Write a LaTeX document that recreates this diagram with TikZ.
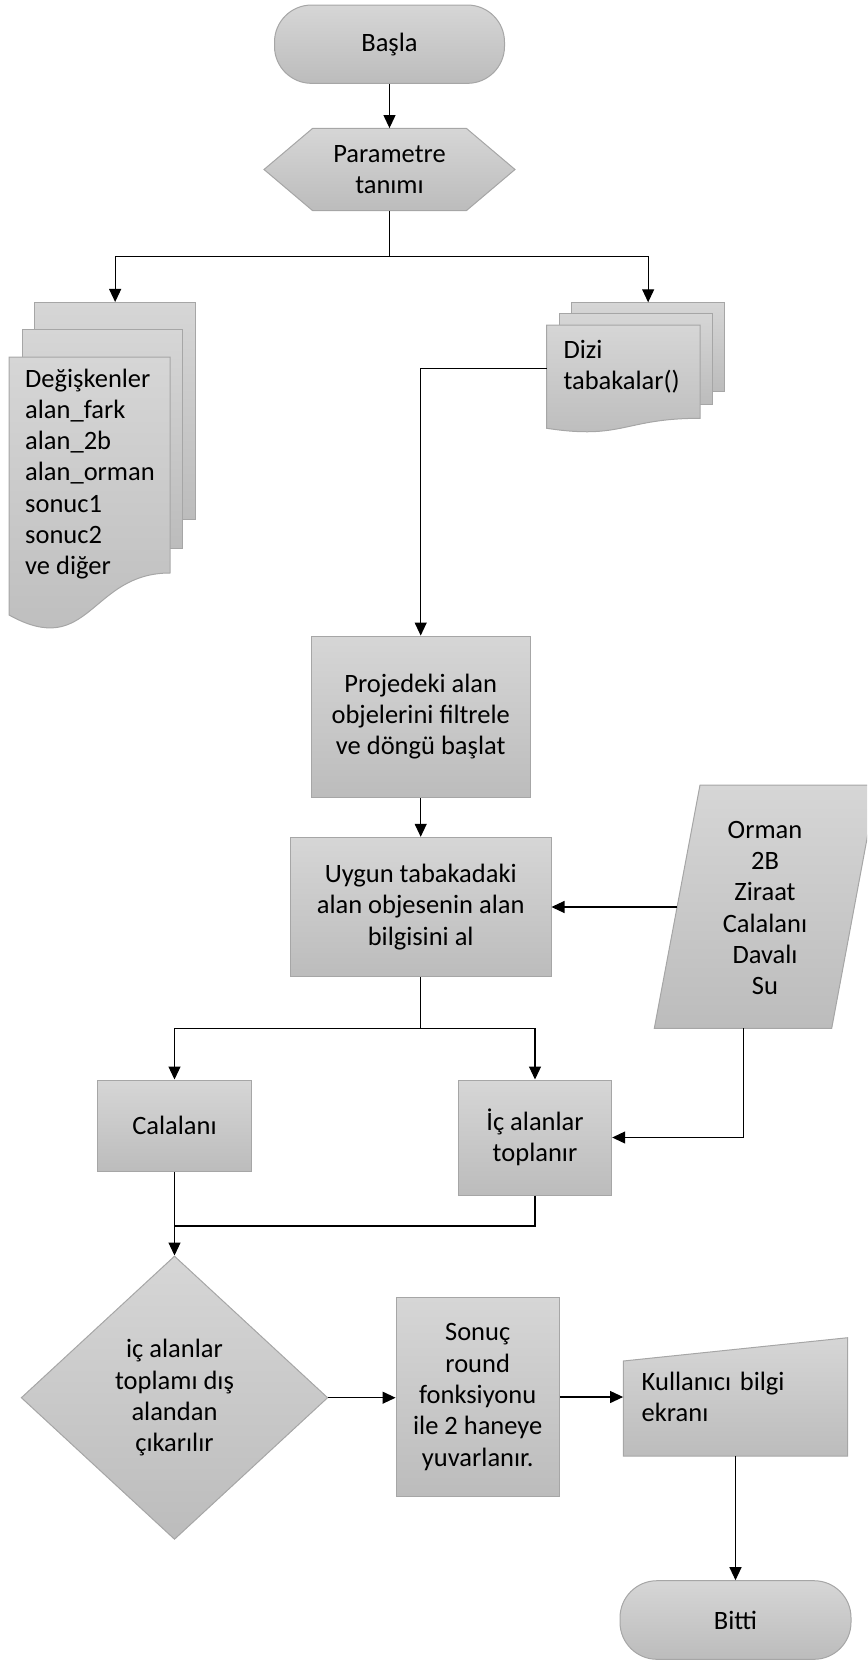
\documentclass[tikz,border=0pt]{standalone}
\usepackage{fontspec}
\setmainfont{Carlito}
\usetikzlibrary{arrows.meta,shapes.geometric,calc}
\definecolor{gtop}{HTML}{D6D6D6}
\definecolor{gbot}{HTML}{BCBCBC}
\definecolor{bordc}{HTML}{A6A6A6}
\newcommand{\fcfont}{\fontsize{26.5}{31.3}\selectfont}
\begin{document}
\begin{tikzpicture}[x=1pt,y=-1pt,
  shapefill/.style={draw=bordc, line width=1pt, top color=gtop, bottom color=gbot},
  lbl/.style={font=\fcfont, align=center, inner sep=0pt},
  procbox/.style={shapefill, rectangle, lbl},
  ghost/.style={lbl, draw=none, fill=none},
  sheet/.style={shapefill, rectangle, inner sep=0pt, anchor=north west},
  conn/.style={line width=1.1pt, -{Triangle[width=12pt,length=13pt]}},
  plainline/.style={line width=1.1pt}]
\useasboundingbox (0,0) rectangle (867,1661);

% ---- start
\node[procbox, rounded corners=37pt, minimum width=230pt, minimum height=78.3pt] (basla) at (389.5,44.2) {Başla};

% ---- hexagon
\path[shapefill] (264,169.5) -- (312.7,128.3) -- (466.3,128.3) -- (515,169.5) -- (466.3,210.7) -- (312.7,210.7) -- cycle;
\node[ghost, minimum width=251pt, minimum height=82.4pt] (param) at (389.5,169.5) {Parametre\\tanımı};

% ---- left multi-document
\node[sheet, minimum width=160.7pt, minimum height=217pt] (varsA) at (34.3,302) {};
\node[sheet, minimum width=159.4pt, minimum height=219pt] (varsB) at (22.3,329) {};
\path[shapefill] (9,357) -- (170,357) -- (170,573) .. controls (90,573) and (90,660) .. (9,615) -- cycle;
\node[ghost, align=left, anchor=west] (vars) at (25,474) {Değişkenler\\alan\_fark\\alan\_2b\\alan\_orman\\sonuc1\\sonuc2\\ve diğer};

% ---- right multi-document
\node[sheet, minimum width=153.3pt, minimum height=88.7pt] (diziA) at (571,302.3) {};
\node[sheet, minimum width=152.4pt, minimum height=90.7pt] (diziB) at (559.3,313.3) {};
\path[shapefill] (546.7,325) -- (700,325) -- (700,418.3) .. controls (623.3,418.3) and (623.3,440) .. (546.7,428.3) -- cycle;
\node[ghost, align=left, anchor=west] (dizi) at (563.3,366.7) {Dizi\\tabakalar()};
\coordinate (diziW) at (546.7,368.3);

% ---- process boxes
\node[procbox, minimum width=219.3pt, minimum height=161.3pt] (proj) at (420.7,716.7) {Projedeki alan\\objelerini filtrele\\ve döngü başlat};
\node[procbox, minimum width=260.6pt, minimum height=139.4pt] (uygun) at (420.7,907) {Uygun tabakadaki\\alan objesenin alan\\bilgisini al};

% ---- parallelogram (data)
\begin{scope}
\clip (0,0) rectangle (867,1661);
\path[shapefill] (700,785) -- (877,785) -- (831.7,1028.3) -- (654.3,1028.3) -- cycle;
\end{scope}
\node[ghost] (orman) at (765,908) {Orman\\2B\\Ziraat\\Calalanı\\Davalı\\Su};
\coordinate (ormanW) at (677.3,907);
\coordinate (ormanS) at (743.3,1028.3);

\node[procbox, minimum width=153.4pt, minimum height=91.7pt] (cal) at (174.5,1125.85) {Calalanı};
\node[procbox, minimum width=153.4pt, minimum height=115pt] (ic) at (535,1137.5) {İç alanlar\\toplanır};

% ---- decision
\node[shapefill, diamond, lbl, minimum width=306.6pt, minimum height=283.4pt] (dia) at (174.5,1397.7) {iç alanlar\\toplamı dış\\alandan\\çıkarılır};

\node[procbox, minimum width=163.3pt, minimum height=198.3pt] (sonuc) at (477.7,1397) {Sonuç\\round\\fonksiyonu\\ile 2 haneye\\yuvarlanır.};

% ---- manual input
\path[shapefill] (623.3,1456) -- (623.3,1361) -- (847.7,1337.7) -- (847.7,1456) -- cycle;
\node[ghost, minimum width=224.4pt, minimum height=118.3pt, text width=187.6pt, align=left] (kul) at (735.5,1396.85) {Kullanıcı bilgi\\ekranı};

\node[procbox, rounded corners=37pt, minimum width=231pt, minimum height=78.6pt] (bitti) at (735.5,1620) {Bitti};

% ---- connectors
\draw[conn] (basla) -- (param);
\coordinate (br1) at ($(param.south)+(0,45.3)$);
\draw[plainline] (param.south) -- (br1);
\draw[conn] (br1) -| (varsA.north);
\draw[conn] (br1) -| (diziA.north);
\draw[conn] (diziW) -| (proj.north);
\draw[conn] (proj) -- (uygun);
\draw[conn] (ormanW) -- (ormanW -| uygun.east);
\coordinate (br2) at (uygun.south |- 0,1028.3);
\draw[plainline] (uygun.south) -- (br2);
\draw[conn] (br2) -| (cal.north);
\draw[conn] (br2) -| (ic.north);
\draw[conn] (ormanS) |- (ic.east);
\draw[conn] (cal.south) -- (dia.north);
\coordinate (join) at (cal.south |- 0,1226);
\draw[plainline] (ic.south) |- (join);
\draw[conn] (dia.east) -- (dia.east -| sonuc.west);
\draw[conn] (sonuc.east) -- (sonuc.east -| kul.west);
\draw[conn] (kul.south) -- (kul.south |- bitti.north);
\end{tikzpicture}
\end{document}
